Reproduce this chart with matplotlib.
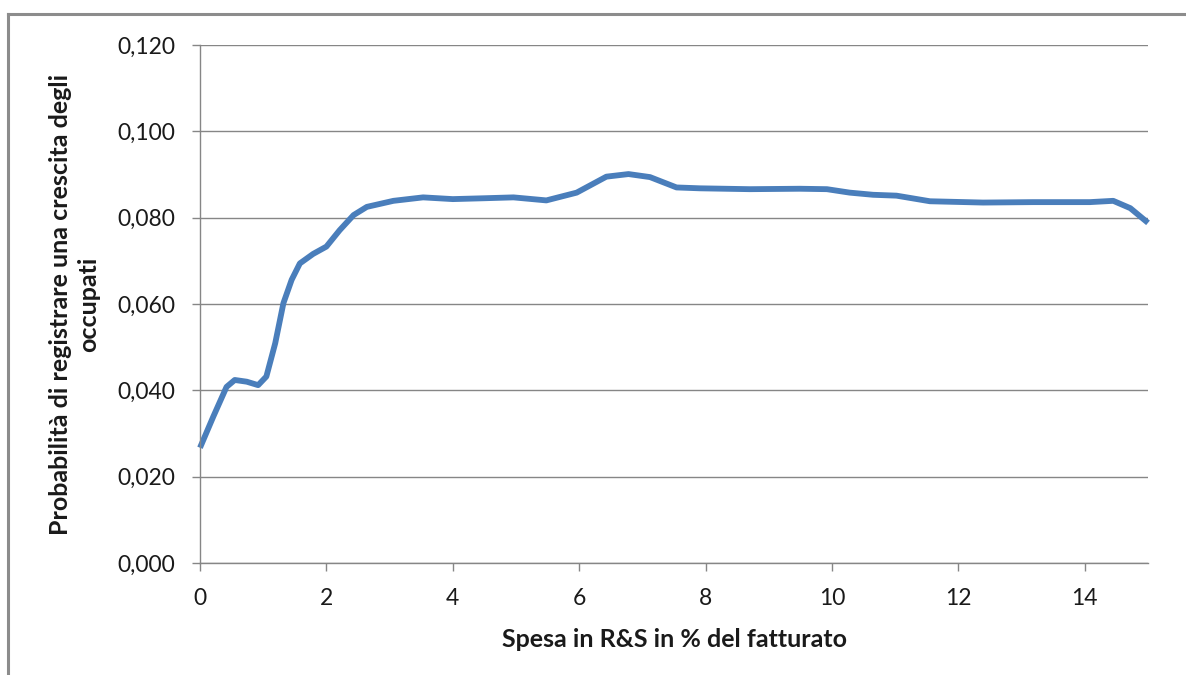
import matplotlib
matplotlib.use("Agg")
import matplotlib.pyplot as plt
from matplotlib.lines import Line2D

plt.rcParams['font.family'] = ['Lato', 'DejaVu Sans']

spesa = [0.0, 0.21, 0.42, 0.55, 0.74, 0.92, 1.05, 1.19, 1.32, 1.45, 1.58, 1.79, 2.0,
         2.21, 2.43, 2.64, 3.06, 3.53, 4.0, 4.5, 4.96, 5.48, 5.96, 6.43, 6.78, 7.12,
         7.54, 7.91, 8.7, 9.49, 9.92, 10.28, 10.65, 11.02, 11.55, 12.39, 13.18, 14.08,
         14.45, 14.72, 15.0]
probabilita = [0.0267, 0.0339, 0.0408, 0.0424, 0.0420, 0.0412, 0.0432, 0.0509, 0.0602,
               0.0656, 0.0694, 0.0716, 0.0733, 0.0771, 0.0806, 0.0825, 0.0839, 0.0847,
               0.0843, 0.0845, 0.0847, 0.0840, 0.0858, 0.0895, 0.0901, 0.0894, 0.0870,
               0.0868, 0.0866, 0.0867, 0.0866, 0.0858, 0.0853, 0.0851, 0.0838, 0.0835,
               0.0836, 0.0836, 0.0839, 0.0822, 0.0788]

x_ticks = [0, 2, 4, 6, 8, 10, 12, 14]
y_ticks = [0.0, 0.02, 0.04, 0.06, 0.08, 0.10, 0.12]
y_ticklabels = ['0,000', '0,020', '0,040', '0,060', '0,080', '0,100', '0,120']

xlabel = 'Spesa in R&S in % del fatturato'
ylabel = 'Probabilità di registrare una crescita degli\noccupati'

W, H = 1186, 675
fig = plt.figure(figsize=(W / 100, H / 100), dpi=100)
ax = fig.add_axes([200 / W, 1 - 563 / H, (1148 - 200) / W, (563 - 45) / H])

grid_c = '#868686'
ax.set_xlim(0, 15)
ax.set_ylim(0, 0.12)
ax.set_yticks(y_ticks)
ax.set_yticklabels(y_ticklabels)
ax.set_xticks(x_ticks)
ax.yaxis.grid(True, color=grid_c, linewidth=1.0)
ax.set_axisbelow(True)
for s in ['top', 'right']:
    ax.spines[s].set_visible(False)
for s in ['left', 'bottom']:
    ax.spines[s].set_color(grid_c)
    ax.spines[s].set_linewidth(1.0)
ax.tick_params(axis='both', direction='out', length=6, width=1.0, color=grid_c,
               labelsize=16.5, labelcolor='#1a1a1a', pad=12)

ax.plot(spesa, probabilita, color='#4A7EBB', linewidth=4.2, solid_capstyle='butt',
        solid_joinstyle='round', clip_on=False)

ax.set_xlabel(xlabel, fontsize=18, fontweight='bold', labelpad=14, color='#1a1a1a')
ax.set_ylabel(ylabel, fontsize=18, fontweight='bold', labelpad=12, color='#1a1a1a',
              linespacing=1.3)

# outer chart frame (partially visible)
border_c = '#8c8c8c'
fig.add_artist(Line2D([8 / W, 1.0], [1 - 14 / H, 1 - 14 / H], transform=fig.transFigure,
                      color=border_c, linewidth=2.2))
fig.add_artist(Line2D([8 / W, 8 / W], [0.0, 1 - 14 / H], transform=fig.transFigure,
                      color=border_c, linewidth=2.2))

fig.savefig('out.png', dpi=100)
